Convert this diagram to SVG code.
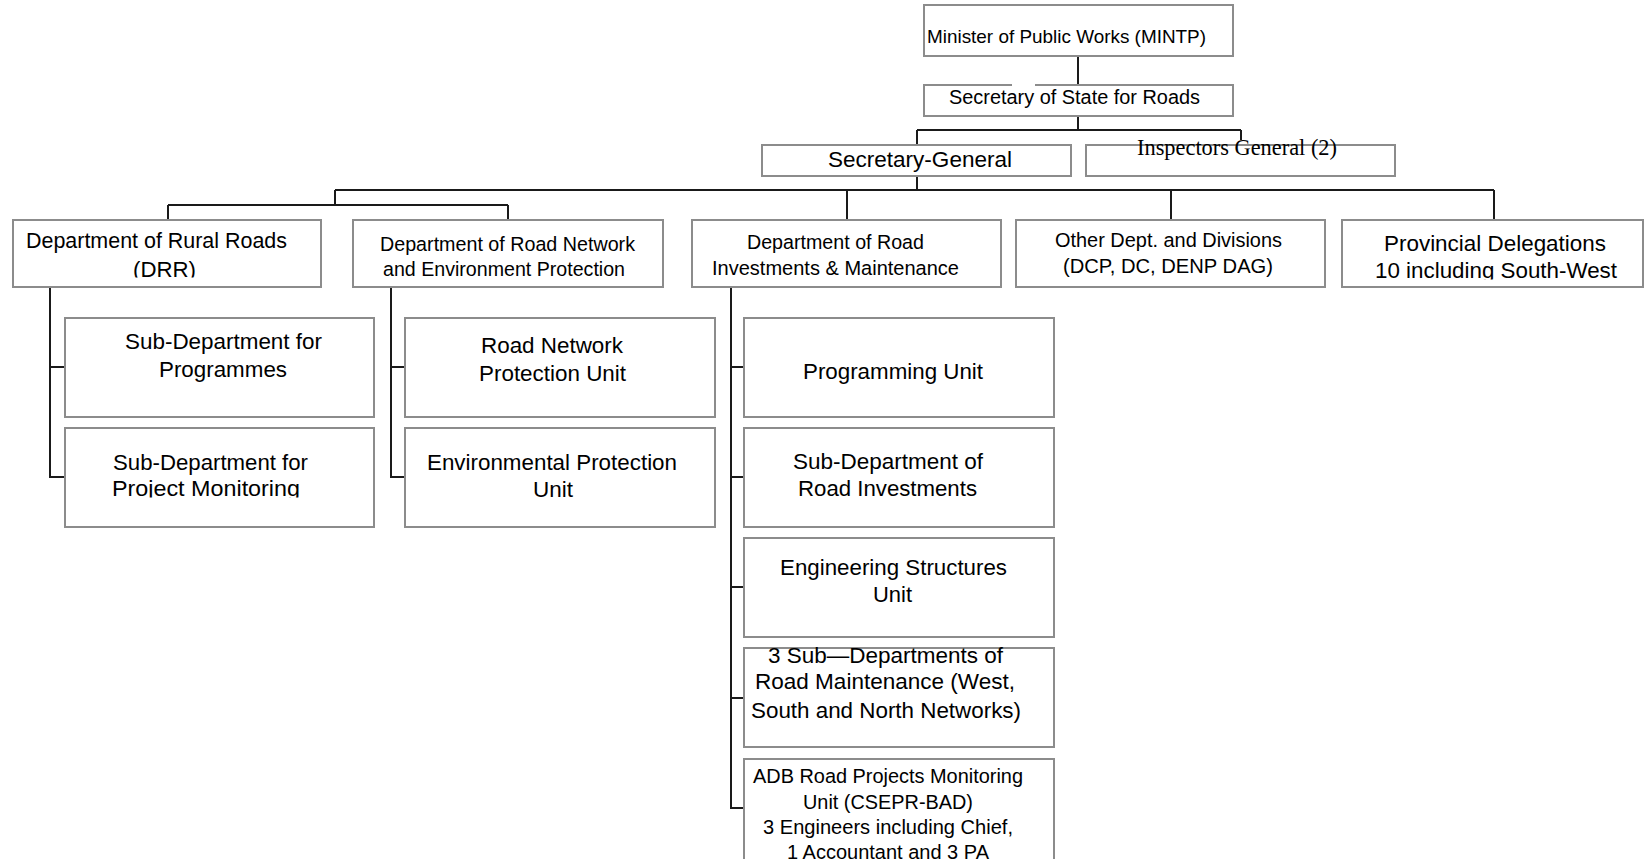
<svg xmlns="http://www.w3.org/2000/svg" width="1644" height="859" viewBox="0 0 1644 859">
<style>
.box{fill:#fff;stroke:#8c8c8c;stroke-width:2}
.ln{fill:none;stroke:#1a1a1a;stroke-width:2}
text{font-family:"Liberation Sans",Arial,sans-serif;fill:#000}
.s{font-size:19.7px}
.l{font-size:22.4px}
.serif{font-family:"Liberation Serif","Times New Roman",serif;font-size:22.5px}
</style>
<defs>
<clipPath id="cDRR"><rect x="0" y="0" width="1644" height="277.5"/></clipPath>
<clipPath id="cProv"><rect x="0" y="0" width="1644" height="279.5"/></clipPath>
<clipPath id="cPM"><rect x="0" y="0" width="1644" height="497.5"/></clipPath>
</defs>
<rect width="1644" height="859" fill="#fff"/>
<g id="connectors">
<path class="ln" d="M1078 56V85M1078 116V130M917 130H1241M917 130V145M1241 130V140M917 176V190M335 190H1494M335 190V205M168 205H508M168 205V220M508 205V220M847 190V220M1171 190V220M1494 190V220"/>
<path class="ln" d="M50 287V477H65M50 367H65M391 287V477H405M391 367H405M731 287V808H744M731 367H744M731 477H744M731 587H744M731 698H744"/>
</g>
<g id="minister">
<rect class="box" x="924" y="5" width="309" height="51"/>
<text x="927" y="43" font-size="19px" textLength="279" lengthAdjust="spacingAndGlyphs">Minister of Public Works (MINTP)</text>
</g>
<g id="secretary-state">
<rect class="box" x="924" y="85" width="309" height="31"/>
<line x1="1012" y1="85" x2="1035" y2="85" stroke="#fff" stroke-width="3"/>
<text x="949" y="104" font-size="20px" textLength="251" lengthAdjust="spacingAndGlyphs">Secretary of State for Roads</text>
</g>
<g id="secretary-general">
<rect class="box" x="762" y="145" width="309" height="31"/>
<text class="l" x="828" y="167" textLength="184" lengthAdjust="spacingAndGlyphs">Secretary-General</text>
</g>
<g id="inspectors">
<rect class="box" x="1086" y="145" width="309" height="31"/>
<text class="serif" x="1137" y="155" textLength="200" lengthAdjust="spacingAndGlyphs">Inspectors General (2)</text>
</g>
<g id="drr">
<rect class="box" x="13" y="220" width="308" height="67"/>
<text x="26" y="248" font-size="21.3px" textLength="261" lengthAdjust="spacingAndGlyphs">Department of Rural Roads</text>
<text x="133" y="277" font-size="21.3px" textLength="63" lengthAdjust="spacingAndGlyphs" clip-path="url(#cDRR)">(DRR)</text>
</g>
<g id="drnep">
<rect class="box" x="353" y="220" width="310" height="67"/>
<text class="s" x="380" y="251" textLength="255" lengthAdjust="spacingAndGlyphs">Department of Road Network</text>
<text class="s" x="383" y="276" textLength="242" lengthAdjust="spacingAndGlyphs">and Environment Protection</text>
</g>
<g id="drim">
<rect class="box" x="692" y="220" width="309" height="67"/>
<text class="s" x="747" y="249" textLength="177" lengthAdjust="spacingAndGlyphs">Department of Road</text>
<text class="s" x="712" y="275" textLength="247" lengthAdjust="spacingAndGlyphs">Investments &amp; Maintenance</text>
</g>
<g id="other">
<rect class="box" x="1016" y="220" width="309" height="67"/>
<text class="s" x="1055" y="247" textLength="227" lengthAdjust="spacingAndGlyphs">Other Dept. and Divisions</text>
<text class="s" x="1063" y="273" textLength="210" lengthAdjust="spacingAndGlyphs">(DCP, DC, DENP DAG)</text>
</g>
<g id="provincial">
<rect class="box" x="1342" y="220" width="301" height="67"/>
<text class="l" x="1384" y="251" textLength="222" lengthAdjust="spacingAndGlyphs">Provincial Delegations</text>
<text class="l" x="1375" y="278" textLength="242" lengthAdjust="spacingAndGlyphs" clip-path="url(#cProv)">10 including South-West</text>
</g>
<g id="sub-programmes">
<rect class="box" x="65" y="318" width="309" height="99"/>
<text class="l" x="125" y="349" textLength="197" lengthAdjust="spacingAndGlyphs">Sub-Department for</text>
<text class="l" x="159" y="377" textLength="128" lengthAdjust="spacingAndGlyphs">Programmes</text>
</g>
<g id="sub-monitoring">
<rect class="box" x="65" y="428" width="309" height="99"/>
<text class="l" x="113" y="470" textLength="195" lengthAdjust="spacingAndGlyphs">Sub-Department for</text>
<text class="l" x="112" y="496" textLength="188" lengthAdjust="spacingAndGlyphs" clip-path="url(#cPM)">Project Monitoring</text>
</g>
<g id="road-network-unit">
<rect class="box" x="405" y="318" width="310" height="99"/>
<text class="l" x="481" y="353" textLength="142" lengthAdjust="spacingAndGlyphs">Road Network</text>
<text class="l" x="479" y="381" textLength="147" lengthAdjust="spacingAndGlyphs">Protection Unit</text>
</g>
<g id="environment-unit">
<rect class="box" x="405" y="428" width="310" height="99"/>
<text class="l" x="427" y="470" textLength="250" lengthAdjust="spacingAndGlyphs">Environmental Protection</text>
<text class="l" x="533" y="497" textLength="40" lengthAdjust="spacingAndGlyphs">Unit</text>
</g>
<g id="programming-unit">
<rect class="box" x="744" y="318" width="310" height="99"/>
<text class="l" x="803" y="379" textLength="180" lengthAdjust="spacingAndGlyphs">Programming Unit</text>
</g>
<g id="road-investments">
<rect class="box" x="744" y="428" width="310" height="99"/>
<text class="l" x="793" y="469" textLength="190" lengthAdjust="spacingAndGlyphs">Sub-Department of</text>
<text class="l" x="798" y="496" textLength="179" lengthAdjust="spacingAndGlyphs">Road Investments</text>
</g>
<g id="engineering">
<rect class="box" x="744" y="538" width="310" height="99"/>
<text class="l" x="780" y="575" textLength="227" lengthAdjust="spacingAndGlyphs">Engineering Structures</text>
<text class="l" x="873" y="602" textLength="39" lengthAdjust="spacingAndGlyphs">Unit</text>
</g>
<g id="maintenance">
<rect class="box" x="744" y="648" width="310" height="99"/>
<text class="l" x="768" y="663" textLength="235" lengthAdjust="spacingAndGlyphs">3 Sub—Departments of</text>
<text class="l" x="755" y="689" textLength="260" lengthAdjust="spacingAndGlyphs">Road Maintenance (West,</text>
<text class="l" x="751" y="718" textLength="270" lengthAdjust="spacingAndGlyphs">South and North Networks)</text>
</g>
<g id="adb-unit">
<rect class="box" x="744" y="759" width="310" height="110"/>
<text class="s" x="753" y="783" textLength="270" lengthAdjust="spacingAndGlyphs">ADB Road Projects Monitoring</text>
<text class="s" x="803" y="809" textLength="170" lengthAdjust="spacingAndGlyphs">Unit (CSEPR-BAD)</text>
<text class="s" x="763" y="834" textLength="250" lengthAdjust="spacingAndGlyphs">3 Engineers including Chief,</text>
<text class="s" x="787" y="859" textLength="202" lengthAdjust="spacingAndGlyphs">1 Accountant and 3 PA</text>
</g>
</svg>
